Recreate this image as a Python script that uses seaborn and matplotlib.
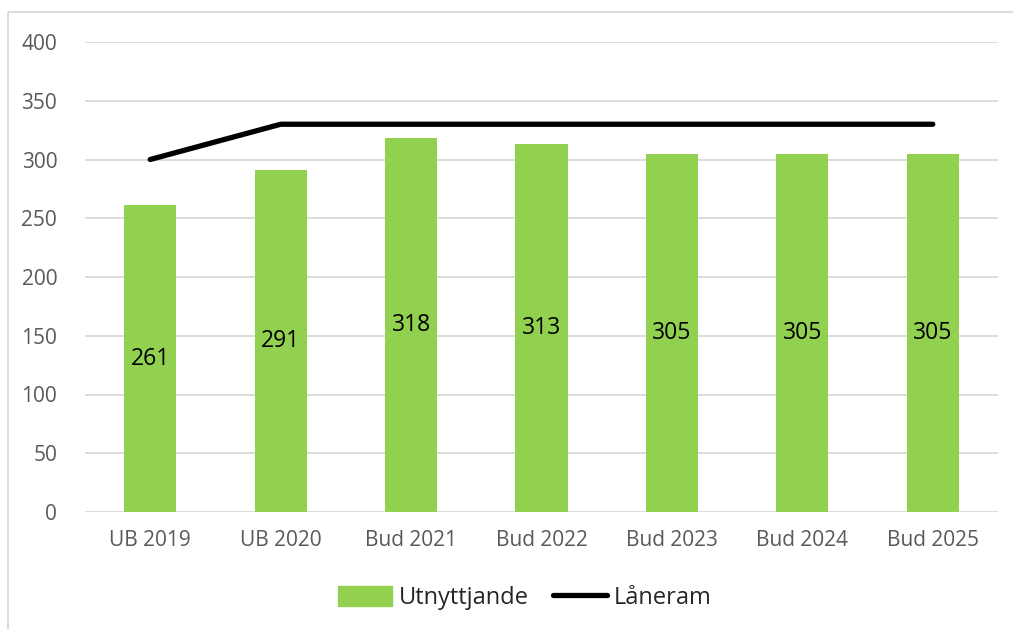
import matplotlib
matplotlib.use("Agg")
import matplotlib.pyplot as plt
import seaborn as sns
from matplotlib.lines import Line2D
from matplotlib.patches import Patch

categories = ["UB 2019", "UB 2020", "Bud 2021", "Bud 2022", "Bud 2023", "Bud 2024", "Bud 2025"]
utnyttjande = [261, 291, 318, 313, 305, 305, 305]
laneram = [300, 330, 330, 330, 330, 330, 330]
y_ticks = [0, 50, 100, 150, 200, 250, 300, 350, 400]

GREEN = "#92D050"
GRID = "#D9D9D9"
TICK = "#595959"

sns.set_style("white")
plt.rcParams["font.family"] = ["Open Sans", "DejaVu Sans"]

fig = plt.figure(figsize=(10.13, 6.29), dpi=100)
ax = fig.add_axes([85 / 1013, 1 - 512 / 629, 913 / 1013, 470 / 629])

sns.barplot(x=categories, y=utnyttjande, color=GREEN, width=0.4,
            saturation=1, linewidth=0, ax=ax, zorder=3)
ax.plot(range(len(categories)), laneram, color="black", lw=3.8,
        solid_capstyle="round", zorder=4)

# value labels centred in each bar
for i, v in enumerate(utnyttjande):
    ax.text(i, v / 2, str(v), ha="center", va="center", fontsize=16.5, color="black", zorder=5)

ax.set_ylim(0, 400)
ax.set_xlim(-0.5, len(categories) - 0.5)
ax.set_yticks(y_ticks)
ax.yaxis.grid(True, color=GRID, lw=1.3, zorder=0)
ax.set_axisbelow(True)
for s in ax.spines.values():
    s.set_visible(False)
ax.tick_params(axis="both", length=0, labelsize=15, labelcolor=TICK)
ax.tick_params(axis="y", pad=20)
ax.tick_params(axis="x", pad=13)

# outer chart border (left and top visible)
fig.add_artist(Line2D([8 / 1013, 8 / 1013, 1.0], [0.0, 1 - 12 / 629, 1 - 12 / 629],
                      color=GRID, lw=1.3, transform=fig.transFigure))

handles = [Patch(color=GREEN, label="Utnyttjande"),
           Line2D([0], [0], color="black", lw=3.8, solid_capstyle="round", label="Låneram")]
fig.legend(handles=handles, loc="center", bbox_to_anchor=(0.518, 1 - 598 / 629), ncol=2,
           frameon=False, fontsize=17, handlelength=2.3, handleheight=0.9,
           columnspacing=1.0, handletextpad=0.3)

fig.savefig("out.png", dpi=100)
